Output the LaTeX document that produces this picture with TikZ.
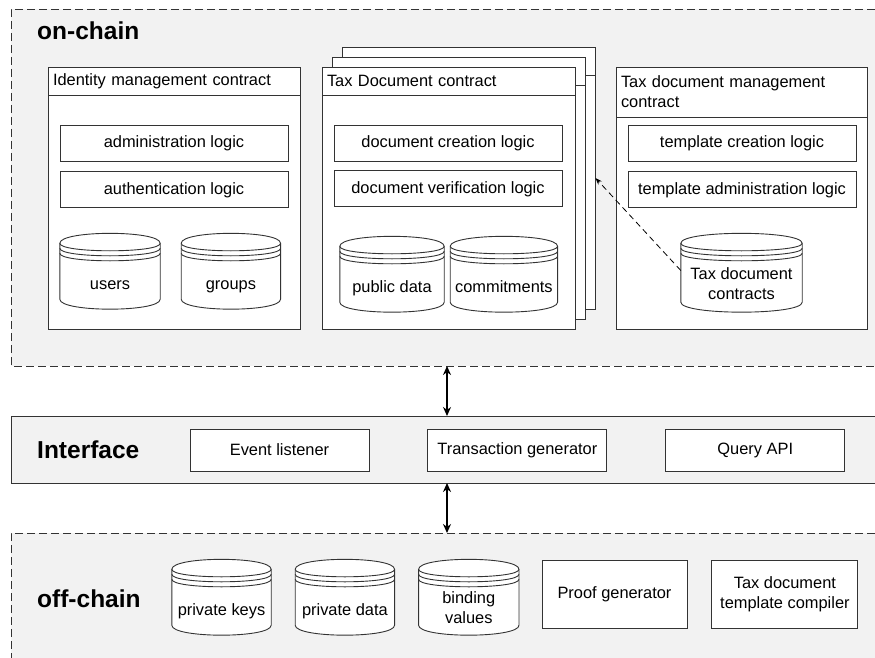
\documentclass[tikz,border=0pt]{standalone}
\usepackage{fontspec}
\setmainfont{Liberation Sans}
\usetikzlibrary{positioning,calc,arrows.meta}

\pgfdeclarelayer{bg}
\pgfdeclarelayer{dbs}
\pgfsetlayers{bg,dbs,main}

\definecolor{zonegray}{HTML}{F2F2F2}
\definecolor{linec}{HTML}{333333}

% outline of a data store round the node that holds its text
\newcommand{\datastore}[1]{%
  \begin{pgfonlayer}{dbs}
    \draw[dbline, fill=white]
      ($(#1.north west)+(0,-17.5)$) .. controls ($(#1.north west)+(0,-30.8)$) and ($(#1.north east)+(0,-30.8)$) .. ($(#1.north east)+(0,-17.5)$)
      -- ($(#1.south east)+(0,-10)$) .. controls ($(#1.south east)+(0,3.3)$) and ($(#1.south west)+(0,3.3)$) .. ($(#1.south west)+(0,-10)$)
      -- cycle;
    \foreach \d in {0,5,10}
      \draw[dbline] ($(#1.north west)+(0,-17.5+\d)$) .. controls ($(#1.north west)+(0,-7.5+\d)$) and ($(#1.north east)+(0,-7.5+\d)$) .. ($(#1.north east)+(0,-17.5+\d)$);
  \end{pgfonlayer}}

% zone frame open on the right, where the picture cuts it
\newcommand{\zoneframe}[2]{%
  \draw[zoneline, #2] (#1.north east) -- (#1.north west) -- (#1.south west) -- (#1.south east);}

\begin{document}
\begin{tikzpicture}[
    x=1pt, y=-1pt,
    font=\fontsize{16.4}{20}\selectfont,
    node distance=10pt and 58pt,
    zone/.style={
        fill=zonegray,
        minimum width=864pt,
        inner sep=0pt,
        outer sep=0pt
    },
    zoneline/.style={
        draw=linec,
        line width=0.9pt
    },
    zonelabel/.style={
        font=\fontsize{24.5}{29}\selectfont\bfseries,
        anchor=base west,
        inner sep=0pt
    },
    contract/.style={
        draw=linec,
        fill=white,
        line width=0.9pt,
        minimum height=262pt,
        inner sep=0pt
    },
    headbar/.style={
        draw=linec,
        fill=white,
        line width=0.9pt,
        anchor=north west,
        align=left,
        inner xsep=5pt,
        inner ysep=0pt,
        minimum height=28pt
    },
    logic/.style={
        draw=linec,
        fill=white,
        line width=0.9pt,
        minimum width=228pt,
        minimum height=36pt,
        inner sep=1pt
    },
    tool/.style={
        draw=linec,
        fill=white,
        line width=0.9pt,
        minimum width=179pt,
        minimum height=42pt,
        align=center,
        inner sep=1pt
    },
    dstore/.style={
        minimum height=48pt,
        inner sep=1pt,
        align=center,
        execute at begin node=\strut,
        execute at end node=\strut
    },
    dbline/.style={
        draw=linec,
        line width=0.9pt
    },
    biarrow/.style={
        draw,
        {Stealth[length=9pt,width=8pt]}-{Stealth[length=9pt,width=8pt]},
        line width=1.5pt
    },
    refarrow/.style={
        draw,
        -{Stealth[length=7pt,width=5pt]},
        dash pattern=on 6pt off 4pt,
        line width=0.8pt
    }
]
    \useasboundingbox (0,0) rectangle (875,658);

    % --- Zones and contract frames ---
    \begin{pgfonlayer}{bg}
        \clip (0,0) rectangle (875,658);
        \node [zone, minimum height=357pt] (onchain) at (443,187.5) {};
        \node [zone, minimum height=67pt] (iface) at (443,449.5) {};
        \node [zone, minimum height=137pt] (offchain) at (443,601.5) {};
        \zoneframe{onchain}{dash pattern=on 8pt off 4pt}
        \zoneframe{iface}{}
        \zoneframe{offchain}{dash pattern=on 8pt off 4pt}

        % Identity management
        \node [contract, minimum width=252pt] (idm) at (174,198) {};
        \node [headbar, text width=242pt] (idmhead) at (idm.north west) {Identity management contract};

        % Tax Document contract, stacked copies behind
        \node [contract, minimum width=253pt] (tdback2) at (468.5,178) {};
        \node [headbar, text width=243pt] at (tdback2.north west) {};
        \node [contract, minimum width=253pt] (tdback1) at (458.5,188) {};
        \node [headbar, text width=243pt] at (tdback1.north west) {};
        \node [contract, minimum width=253pt] (tdc) at (448.5,198) {};
        \node [headbar, text width=243pt] (tdchead) at (tdc.north west) {Tax Document contract};

        % Tax document management
        \node [contract, minimum width=251pt] (tdm) at (741.5,198) {};
        \node [headbar, text width=241pt, minimum height=50pt] (tdmhead) at (tdm.north west) {Tax document management\\contract};
    \end{pgfonlayer}

    \node [zonelabel] (onlbl) at (37,40) {on-chain};
    \node [zonelabel] (iflbl) at (37,458) {Interface};
    \node [zonelabel] (offlbl) at (37,607) {off-chain};

    % --- on-chain ---
    \node [logic] (admin) at (174,143) {administration logic};
    \node [logic, below=of admin] (auth) {authentication logic};
    \node [dstore, minimum width=100pt] (users) at (110,285) {users};
    \node [dstore, minimum width=99pt, right=21pt of users] (groups) {groups};

    \node [logic] (docc) at (448,143) {document creation logic};
    \node [logic, below=9pt of docc] (docv) {document verification logic};
    \node [dstore, minimum width=104pt] (pubdata) at (392,288) {public data};
    \node [dstore, minimum width=107pt, right=6pt of pubdata] (commit) {commitments};

    \node [logic] (tmplc) at (742,143) {template creation logic};
    \node [logic, below=of tmplc] (tmpla) {template administration logic};
    \node [dstore, minimum width=121pt, minimum height=51pt] (tdcs) at (741.5,286.5) {Tax document\\contracts};

    % --- Interface ---
    \node [tool] (evl) at (279.5,450) {Event listener};
    \node [tool, right=of evl] (txg) {Transaction generator};
    \node [tool, right=of txg] (qapi) {Query API};

    % --- off-chain ---
    \node [dstore, minimum width=99pt] (privk) at (221.5,611) {private keys};
    \node [dstore, minimum width=99pt, right=24pt of privk] (privd) {private data};
    \node [dstore, minimum width=100pt, right=24pt of privd] (bindv) {binding\\values};
    \node [tool, minimum width=145pt, minimum height=68pt] (proof) at (614.5,594) {Proof generator};
    \node [tool, minimum width=146pt, minimum height=68pt, right=24pt of proof] (tdtc) {Tax document\\template compiler};

    \datastore{users}
    \datastore{groups}
    \datastore{pubdata}
    \datastore{commit}
    \datastore{tdcs}
    \datastore{privk}
    \datastore{privd}
    \datastore{bindv}

    % --- Connections ---
    \coordinate (bus) at (447,0);
    \path [biarrow] (onchain.south -| bus) -- (iface.north -| bus);
    \path [biarrow] (iface.south -| bus) -- (offchain.north -| bus);
    \path [refarrow] ([yshift=16pt]tdcs.west) -- (tdback2.east);

\end{tikzpicture}
\end{document}
